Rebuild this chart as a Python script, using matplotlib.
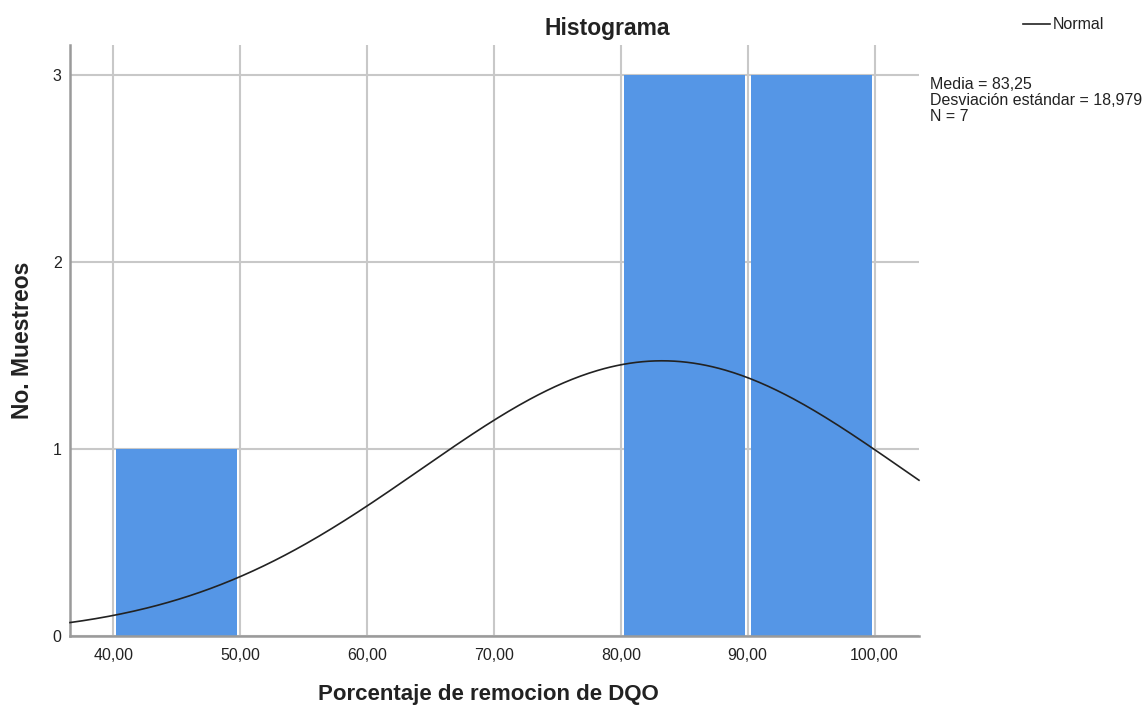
import numpy as np
import matplotlib
matplotlib.use("Agg")
import matplotlib.pyplot as plt

plt.rcParams['font.family'] = ['Liberation Sans', 'DejaVu Sans']

# histogram of percentage removal (bin width 10)
bin_edges = [40, 50, 60, 70, 80, 90, 100]
counts = [1, 0, 0, 0, 3, 3]
media = 83.25
desv = 18.979
n = 7
x_ticks = [40, 50, 60, 70, 80, 90, 100]
y_ticks = [0, 1, 2, 3]

fig = plt.figure(figsize=(11.44, 7.09), dpi=100)
ax = fig.add_axes([0.0612, 0.1030, 0.7421, 0.8335])

centers = [(a + b) / 2 for a, b in zip(bin_edges[:-1], bin_edges[1:])]
ax.hist(centers, bins=bin_edges, weights=counts, rwidth=0.952,
        color='#5596e6', zorder=2)

# fitted normal curve scaled to counts
width = bin_edges[1] - bin_edges[0]
xs = np.linspace(36.6, 103.5, 400)
ys = n * width / (desv * np.sqrt(2 * np.pi)) * np.exp(-0.5 * ((xs - media) / desv) ** 2)
ax.plot(xs, ys, color='#222222', lw=1.2, zorder=3, clip_on=False)

ax.set_xlim(36.6, 103.5)
ax.set_ylim(0, 3.16)
ax.set_xticks(x_ticks)
ax.set_xticklabels([f"{v:.2f}".replace('.', ',') for v in x_ticks])
ax.set_yticks(y_ticks)
ax.tick_params(length=0, labelsize=11.5, colors='#222222')
ax.tick_params(axis='x', pad=9)
ax.tick_params(axis='y', pad=6)
ax.grid(True, color='#c8c8c8', lw=1.5, zorder=0)
ax.set_axisbelow(True)
for side in ('top', 'right'):
    ax.spines[side].set_visible(False)
for side in ('left', 'bottom'):
    ax.spines[side].set_color('#9a9a9a')
    ax.spines[side].set_linewidth(1.8)

fig.text(0.531, 0.960, 'Histograma', ha='center', va='center',
         fontsize=16.5, fontweight='bold', color='#222222')
fig.text(0.427, 0.020, 'Porcentaje de remocion de DQO', ha='center', va='center',
         fontsize=16, fontweight='bold', color='#222222')
fig.text(0.020, 0.520, 'No. Muestreos', ha='center', va='center', rotation=90,
         fontsize=16.5, fontweight='bold', color='#222222')

# legend and summary statistics
fig.add_artist(plt.Line2D([0.894, 0.918], [0.966, 0.966], color='#222222', lw=1.2))
fig.text(0.920, 0.966, 'Normal', va='center', fontsize=11.5, color='#222222')
fig.text(0.813, 0.891,
         f"Media = {media:.2f}".replace('.', ',') + "\n"
         + f"Desviación estándar = {desv:.3f}".replace('.', ',') + "\n"
         + f"N = {n}",
         va='top', fontsize=11.5, color='#222222', linespacing=1.08)

fig.savefig('out.png', dpi=100)
